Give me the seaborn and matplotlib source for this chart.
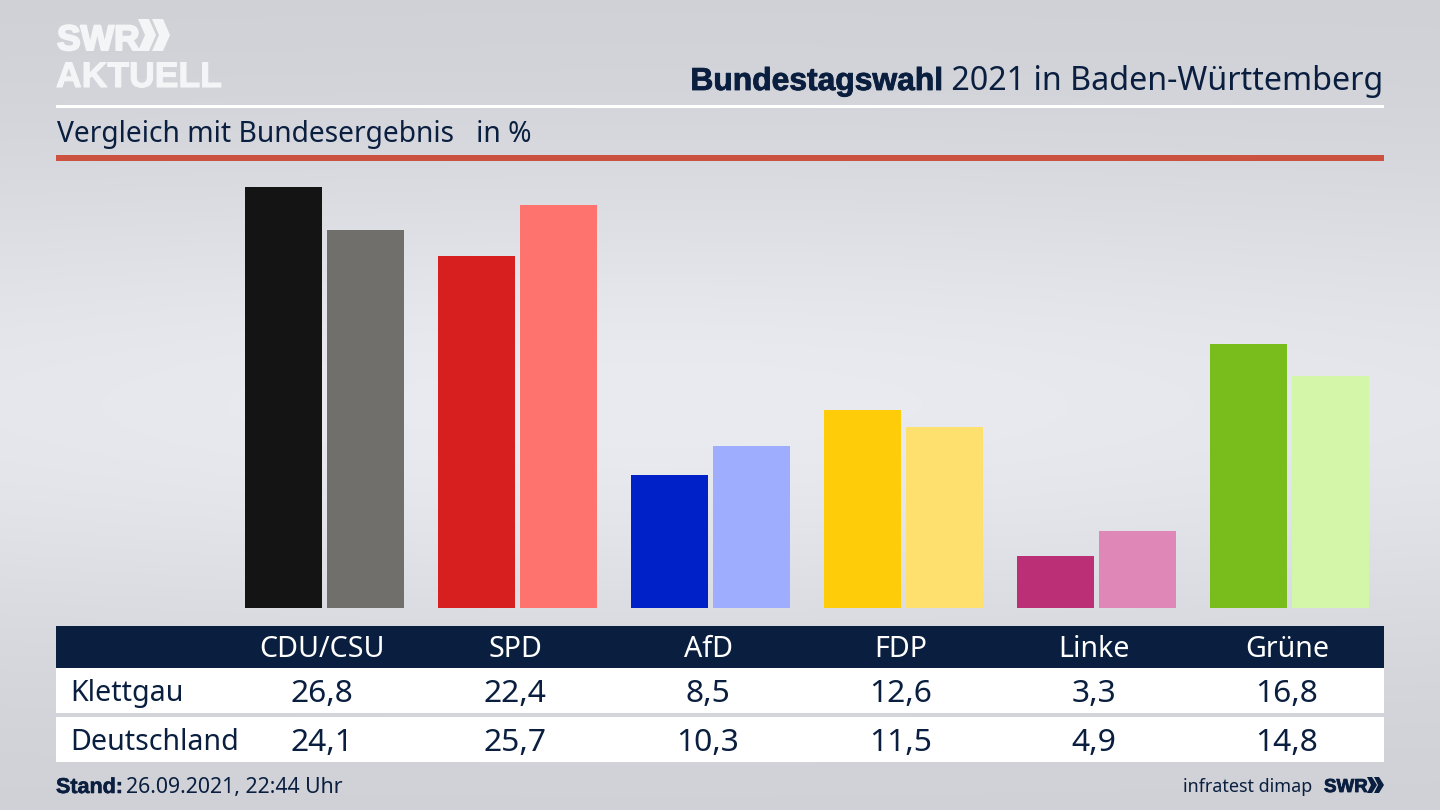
import numpy as np
import pandas as pd
import matplotlib
matplotlib.use("Agg")
import matplotlib.pyplot as plt
from matplotlib.patches import Rectangle, Polygon
import matplotlib.patheffects as pe
import seaborn as sns

parties = ["CDU/CSU", "SPD", "AfD", "FDP", "Linke", "Grüne"]
klettgau = [26.8, 22.4, 8.5, 12.6, 3.3, 16.8]
deutschland = [24.1, 25.7, 10.3, 11.5, 4.9, 14.8]
colors_local = ["#141414", "#d81f1f", "#0020c8", "#ffcc0a", "#bb2f77", "#78bd1c"]
colors_nat = ["#706f6c", "#ff736f", "#9fadff", "#fee06f", "#df88b8", "#d3f6a8"]
region_labels = ["Klettgau", "Deutschland"]

NAVY = "#0a1f3f"
W, H = 1440, 810
sns.set_theme(style="white")
plt.rcParams["font.family"] = ["Noto Sans", "DejaVu Sans"]

fig = plt.figure(figsize=(W / 100, H / 100), dpi=100)

# background
bg = fig.add_axes([0, 0, 1, 1], zorder=0)
yy, xx = np.mgrid[0:1:162j, 0:1:288j]
vert = np.exp(-((yy - 0.5) / 0.30) ** 2)
horiz = 0.72 + 0.28 * np.exp(-((xx - 0.45) / 0.55) ** 2)
shade = 0.81 + 0.105 * vert * horiz
rgb = np.dstack([shade, shade + 0.006, shade + 0.026])
bg.imshow(np.clip(rgb, 0, 1), aspect="auto", extent=[0, W, H, 0], interpolation="bicubic")
bg.set_xlim(0, W)
bg.set_ylim(H, 0)
bg.axis("off")

# bars
base_y, top_y = 608, 160
ax = fig.add_axes([228 / W, 1 - base_y / H, 1158 / W, (base_y - top_y) / H], zorder=1)
ax.patch.set_alpha(0)
df = pd.DataFrame({
    "party": parties * 2,
    "value": klettgau + deutschland,
    "region": [region_labels[0]] * 6 + [region_labels[1]] * 6,
})
sns.barplot(data=df, x="party", y="value", hue="region", order=parties, hue_order=region_labels,
            width=0.85, gap=0.07, legend=False, ax=ax, saturation=1, linewidth=0,
            palette=["#000000", "#888888"])
for container, cols in zip(ax.containers, [colors_local, colors_nat]):
    for patch, col in zip(container, cols):
        patch.set_facecolor(col)
ax.set_xlim(-0.5, 5.5)
ax.set_ylim(0, (base_y - top_y) / 15.7)
ax.axis("off")

# overlay
ov = fig.add_axes([0, 0, 1, 1], zorder=2)
ov.patch.set_alpha(0)
ov.set_xlim(0, W)
ov.set_ylim(H, 0)
ov.axis("off")


def rect(x0, y0, x1, y1, c):
    ov.add_patch(Rectangle((x0, y0), x1 - x0, y1 - y0, fc=c, ec="none"))


def heavy(width, color):
    return [pe.withStroke(linewidth=width, foreground=color)]


L, R = 56, 1384
rect(L, 104.5, R, 107.5, "#ffffff")
rect(L, 155, R, 160.5, "#cc5240")
rect(L, 626, R, 668, NAVY)
rect(L, 668, R, 713, "#ffffff")
rect(L, 717, R, 762, "#ffffff")

# logo
LOGO = "#f4f5f6"
ov.text(57, 50, "SWR", color=LOGO, fontsize=25.5, family="Liberation Sans", fontweight="bold",
        ha="left", va="baseline", path_effects=heavy(1.5, LOGO))
ov.text(56, 87, "AKTUELL", color=LOGO, fontsize=25.6, family="Liberation Sans", fontweight="bold",
        ha="left", va="baseline", path_effects=heavy(0.8, LOGO))
for dx in (0, 14):
    ov.add_patch(Polygon([(138 + dx, 19), (149 + dx, 19), (156 + dx, 35), (149 + dx, 51), (138 + dx, 51), (145 + dx, 35)],
                         fc=LOGO, ec="none"))

# title
t = ov.text(1383, 90, " 2021 in Baden-Württemberg", color=NAVY, fontsize=23.2, ha="right", va="baseline")
fig.canvas.draw()
bb = t.get_window_extent()
ov.text(bb.x0, 90, "Bundestagswahl", color=NAVY, fontsize=22.9, family="Liberation Sans", fontweight="bold",
        ha="right", va="baseline", path_effects=heavy(0.6, NAVY))
ov.text(57, 142, "Vergleich mit Bundesergebnis   in %", color=NAVY, fontsize=20.3, ha="left", va="baseline")

# table
centers = [322 + 193 * i for i in range(len(parties))]
fmt = lambda v: f"{v:.1f}".replace(".", ",")
for cx, p, a, b in zip(centers, parties, klettgau, deutschland):
    ov.text(cx, 657, p, color="#ffffff", fontsize=20.6, ha="center", va="baseline")
    ov.text(cx, 702, fmt(a), color=NAVY, fontsize=22.9, ha="center", va="baseline")
    ov.text(cx, 751, fmt(b), color=NAVY, fontsize=22.9, ha="center", va="baseline")
ov.text(70, 701, region_labels[0], color=NAVY, fontsize=20.6, ha="left", va="baseline")
ov.text(70, 750, region_labels[1], color=NAVY, fontsize=20.6, ha="left", va="baseline")

# footer
ov.text(56, 793, "Stand:", color=NAVY, fontsize=15.5, family="Liberation Sans", fontweight="bold",
        ha="left", va="baseline", path_effects=heavy(0.4, NAVY))
ov.text(126, 793, "26.09.2021, 22:44 Uhr", color=NAVY, fontsize=15.3, ha="left", va="baseline")
ov.text(1312, 792, "infratest dimap", color=NAVY, fontsize=12.9, ha="right", va="baseline")
ov.text(1324, 792, "SWR", color=NAVY, fontsize=13.5, family="Liberation Sans", fontweight="bold",
        ha="left", va="baseline", path_effects=heavy(0.6, NAVY))
for dx in (0, 7):
    ov.add_patch(Polygon([(1367 + dx, 777), (1372 + dx, 777), (1377 + dx, 785), (1372 + dx, 793), (1367 + dx, 793), (1371 + dx, 785)],
                         fc=NAVY, ec="none"))

fig.savefig("out.png", dpi=100)
